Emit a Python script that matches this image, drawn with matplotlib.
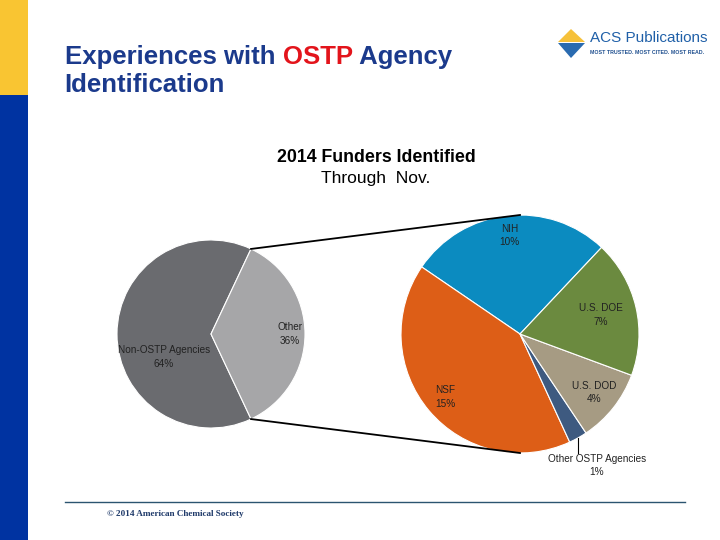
import numpy as np
from matplotlib import pyplot as plt
from matplotlib.patches import Rectangle, Polygon

# left pie: all funders identified in 2014
main_labels = ["Non-OSTP Agencies", "Other"]
main_values = [64, 36]
main_colors = ["#6a6b6f", "#a6a6a8"]

# right pie: breakdown of the "Other" share
sub_labels = ["NIH", "NSF", "Other OSTP Agencies", "U.S. DOD", "U.S. DOE"]
sub_values = [9.9, 14.9, 0.9, 3.6, 6.7]
sub_colors = ["#0b8bc0", "#dd5e17", "#3e5a80", "#a69b83", "#6b8a3f"]

H = 540


def Y(y):
    return H - y


plt.rcParams['font.family'] = ['Liberation Sans', 'DejaVu Sans']

fig = plt.figure(figsize=(7.2, 5.4), dpi=100)
ax = fig.add_axes([0, 0, 1, 1])

# slide decoration
ax.add_patch(Rectangle((0, Y(95)), 28, 95, color="#f9c532", lw=0))
ax.add_patch(Rectangle((0, 0), 28, Y(95), color="#0033a1", lw=0))
ax.plot([65, 685], [Y(502), Y(502)], color="#2b5470", lw=1)
ax.text(107, Y(514), "© 2014 American Chemical Society", family="Liberation Serif",
        fontsize=6.6, weight="bold", color="#1f3a6a", va="center")

# ACS logo
ax.add_patch(Polygon([(558, Y(42)), (571, Y(29)), (585, Y(42))], color="#f6c13a", lw=0))
ax.add_patch(Polygon([(558, Y(43)), (585, Y(43)), (571, Y(58))], color="#2a6bb0", lw=0))
ax.text(590, Y(38), "ACS Publications", fontsize=11, color="#2060a8", va="center")
ax.text(590, Y(52), "MOST TRUSTED. MOST CITED. MOST READ.", fontsize=3.8, weight="bold",
        color="#1f4f8f", va="center")

# slide title
title_color = "#1b3a8c"
t1 = ax.text(65, Y(57), "Experiences with ", fontsize=18.5, weight="bold",
             color=title_color, va="center")
t2 = ax.annotate("OSTP", xy=(1, 0), xycoords=t1, va="bottom", fontsize=18.5,
                 weight="bold", color="#e3141b")
ax.annotate(" Agency", xy=(1, 0), xycoords=t2, va="bottom", fontsize=18.5,
            weight="bold", color=title_color)
ax.text(64, Y(85), "Identification", fontsize=18.5, weight="bold",
        color=title_color, va="center")

# chart title
ax.text(376, Y(158), "2014 Funders Identified", fontsize=12.8, weight="bold",
        ha="center", va="center")
ax.text(376, Y(178), "Through  Nov.", fontsize=12.5, ha="center", va="center")

# main pie
c1, r1 = (211, Y(334)), 94
start1 = 180 * main_values[1] / sum(main_values)
w1, _ = ax.pie(main_values, colors=main_colors, startangle=start1, center=c1,
               radius=r1, wedgeprops=dict(edgecolor="white", linewidth=0.8),
               frame=True)

# sub pie
c2, r2 = (520, Y(334)), 119
w2, _ = ax.pie(sub_values, colors=sub_colors, startangle=46.7, center=c2,
               radius=r2, wedgeprops=dict(edgecolor="white", linewidth=0.8),
               frame=True)

lab_kw = dict(fontsize=7.2, ha="center", va="center", color="#222222", linespacing=1.4)

# labels on main pie
ax.text(c1[0] - 47, c1[1] - 23, f"{main_labels[0]}\n{main_values[0]}%", **lab_kw)
ax.text(c1[0] + 0.84 * r1, c1[1], f"{main_labels[1]}\n{main_values[1]}%", **lab_kw)

# labels on sub pie
dists = [0.83, 0.82, 1.0, 0.79, 0.70]
for w, lab, val, d in zip(w2, sub_labels, sub_values, dists):
    mid = np.deg2rad((w.theta1 + w.theta2) / 2)
    px, py = c2[0] + d * r2 * np.cos(mid), c2[1] + d * r2 * np.sin(mid)
    if lab == "Other OSTP Agencies":
        ax.plot([px, px], [py, py - 15], color="black", lw=0.8)
        ax.text(px + 19, py - 28, f"{lab}\n{round(val)}%", **lab_kw)
    else:
        ax.text(px, py, f"{lab}\n{round(val)}%", **lab_kw)

# connector lines between the pies
th = np.deg2rad(start1)
ax.plot([c1[0] + r1 * np.cos(th), c2[0]], [c1[1] + r1 * np.sin(th), c2[1] + r2],
        color="black", lw=1.3)
ax.plot([c1[0] + r1 * np.cos(th), c2[0]], [c1[1] - r1 * np.sin(th), c2[1] - r2],
        color="black", lw=1.3)

ax.set_xlim(0, 720)
ax.set_ylim(0, H)
ax.set_aspect("equal")
ax.axis("off")

fig.savefig("out.png", dpi=100)
